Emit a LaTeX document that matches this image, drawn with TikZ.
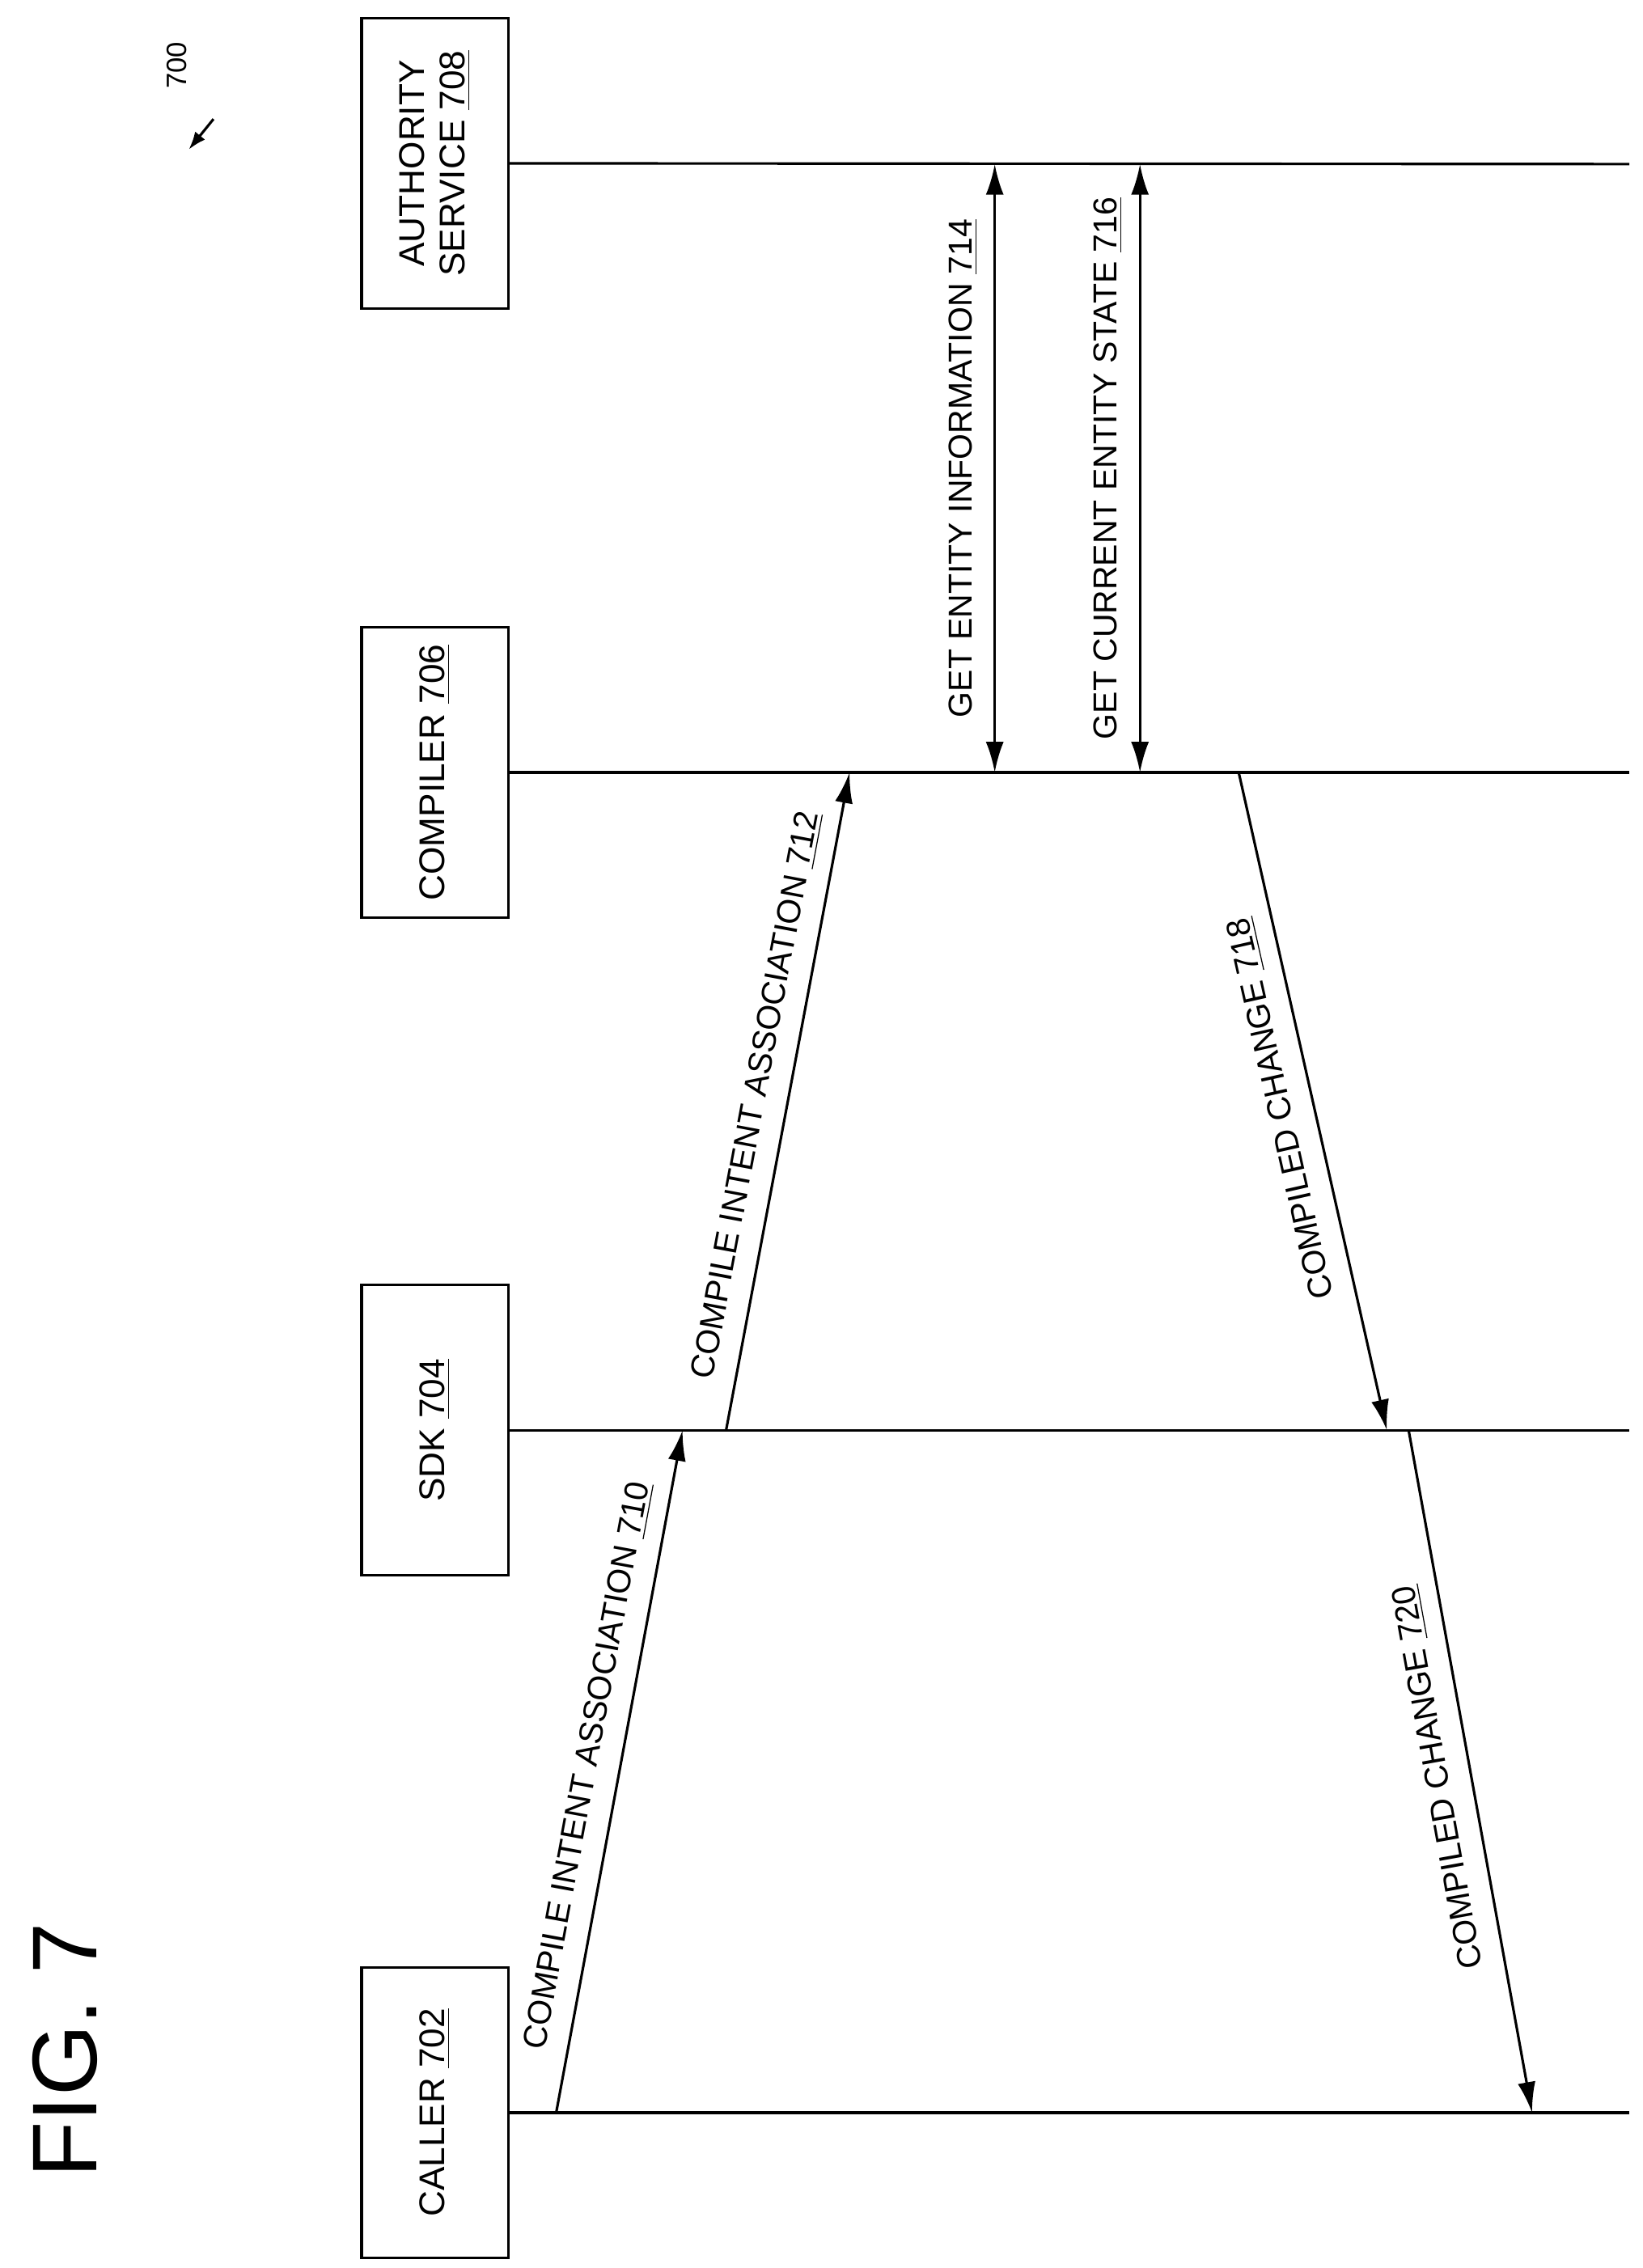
\documentclass[tikz,border=0pt]{standalone}
\usepackage{fontspec}
\setmainfont{Liberation Sans}
\usetikzlibrary{arrows.meta}
\begin{document}
\begin{tikzpicture}[x=0.02cm,y=-0.02cm,
  line width=1pt,
  box/.style={draw,minimum width=2.02cm,minimum height=4cm,inner sep=0pt},
  boxtxt/.style={rotate=90,align=center,font=\fontsize{14}{16}\selectfont},
  lab/.style={midway,sloped,above=3pt,font=\fontsize{13}{15}\selectfont},
  arr/.style={-{Latex[length=12pt,width=7pt]}},
  darr/.style={{Latex[length=12pt,width=7pt]}-{Latex[length=12pt,width=7pt]}}]
\useasboundingbox (0,0) rectangle (1131,1562);
% boxes
\node[box] (caller) at (299.5,1455) {};
\node[boxtxt] at (caller) {CALLER \underline{702}};
\node[box] (sdk) at (299.5,985) {};
\node[boxtxt] at (sdk) {SDK \underline{704}};
\node[box] (comp) at (299.5,532) {};
\node[boxtxt] at (comp) {COMPILER \underline{706}};
\node[box] (auth) at (299.5,112.5) {};
\node[boxtxt] at (auth) {AUTHORITY\\SERVICE \underline{708}};
% lifelines
\coordinate (cE) at (1122,1455);
\coordinate (sE) at (1122,985);
\coordinate (pE) at (1122,532);
\coordinate (aE) at (1122,113);
\draw (caller.east) -- (cE);
\draw (sdk.east) -- (sE);
\draw (comp.east) -- (pE);
\draw (auth.east) -- (aE);
% messages
\coordinate (a1) at (383,1455); \coordinate (a2) at (470,985);
\draw[arr] (a1) -- node[lab]{COMPILE INTENT ASSOCIATION \underline{710}} (a2);
\coordinate (b1) at (500,985); \coordinate (b2) at (585,532);
\draw[arr] (b1) -- node[lab]{COMPILE INTENT ASSOCIATION \underline{712}} (b2);
\coordinate (c1) at (685,532); \coordinate (c2) at (685,113);
\draw[darr] (c1) -- node[lab]{GET ENTITY INFORMATION \underline{714}} (c2);
\coordinate (d1) at (785,532); \coordinate (d2) at (785,113);
\draw[darr] (d1) -- node[lab]{GET CURRENT ENTITY STATE \underline{716}} (d2);
\coordinate (e1) at (955,985); \coordinate (e2) at (853,532);
\draw[{Latex[length=12pt,width=7pt]}-] (e1) -- node[lab,allow upside down]{COMPILED CHANGE \underline{718}} (e2);
\coordinate (f1) at (1055,1455); \coordinate (f2) at (970,985);
\draw[{Latex[length=12pt,width=7pt]}-] (f1) -- node[lab,allow upside down]{COMPILED CHANGE \underline{720}} (f2);
% figure label
\node[rotate=90,font=\fontsize{36}{40}\selectfont] (fig) at (45,1412) {FIG. 7};
\node[rotate=90,font=\fontsize{11}{13}\selectfont] (ref) at (122,45) {700};
\coordinate (r1) at (147,82); \coordinate (r2) at (130,103);
\draw[-{Latex[length=7pt,width=5pt]}] (r1) -- (r2);
\end{tikzpicture}
\end{document}
